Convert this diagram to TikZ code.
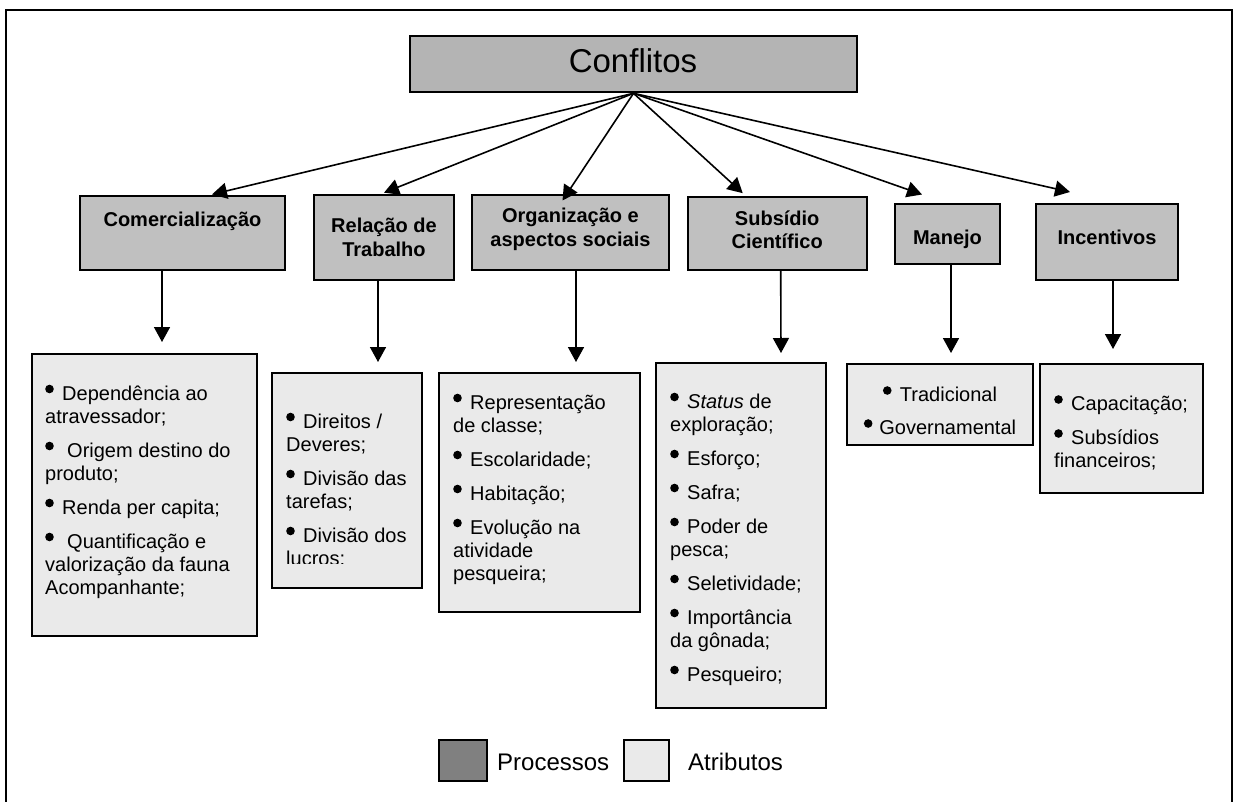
\documentclass[tikz,border=0pt]{standalone}
\usepackage{fontspec}
\setmainfont{Liberation Sans}
\usetikzlibrary{arrows.meta}
\definecolor{procfill}{HTML}{C0C0C0}
\definecolor{rootfill}{HTML}{B4B4B4}
\definecolor{attrfill}{HTML}{EAEAEA}
\definecolor{legdark}{HTML}{808080}
% round bullet, raised to the middle of the capitals
\newsavebox\bulbox
\newcommand\bul{\makebox[17pt][l]{\usebox\bulbox}}
\newcommand\itemgap{\vskip 11pt}
\newcommand\centerlines[1]{\vtop{\halign{\hfil##\hfil\cr#1\crcr}}}
\tikzset{
  proc/.style={draw, line width=2pt, fill=procfill, inner sep=0pt},
  attr/.style={draw, line width=2pt, fill=attrfill, inner sep=0pt},
  hd/.style={font=\fontsize{20}{23.5}\selectfont\bfseries, inner sep=0pt, anchor=base},
  body/.style={font=\fontsize{20}{23}\selectfont, inner sep=0pt, anchor=base west},
  legtext/.style={font=\fontsize{24}{28}\selectfont, inner sep=0pt, anchor=base west},
  arr/.style={line width=1.6pt, -{Triangle[length=15pt,width=16pt]}},
}
\begin{document}
\sbox\bulbox{\pgfpicture\pgfsetbaseline{0pt}%
  \pgfpathcircle{\pgfpoint{4.3pt}{11pt}}{4.3pt}\pgfusepath{fill}%
  \pgfusepath{use as bounding box}\endpgfpicture}%
\begin{tikzpicture}[x=1pt,y=-1pt]
\clip (0,0) rectangle (1237,801);
\fill[white] (0,0) rectangle (1237,801);
\draw[line width=2.4pt] (6,10) rectangle (1232,812);

% root
\node[proc, fill=rootfill, minimum width=447pt, minimum height=56.6pt] (cf) at (633.5,64) {};
\node[inner sep=0pt, anchor=base, font=\fontsize{33}{38}\selectfont] (cft) at (633,72.7) {Conflitos};

% processes
\node[proc, minimum width=205pt, minimum height=73.4pt] (com) at (182.5,233.1) {};
\node[proc, minimum width=140pt, minimum height=85pt] (rel) at (384,237.2) {};
\node[proc, minimum width=197pt, minimum height=75pt] (org) at (570.5,232.5) {};
\node[proc, minimum width=179pt, minimum height=73.3pt] (sub) at (777.2,233.3) {};
\node[proc, minimum width=105pt, minimum height=60pt] (man) at (947.5,234) {};
\node[proc, minimum width=142pt, minimum height=76pt] (inc) at (1107,242) {};

\node[hd] (comt) at (182.5,226.3) {Comercialização};
\node[hd] (relt) at (384,232.7) {\centerlines{Relação de\cr Trabalho}};
\node[hd] (orgt) at (570.5,222.7) {\centerlines{Organização e\cr aspectos sociais}};
\node[hd] (subt) at (777.2,225) {\centerlines{Subsídio\cr Científico}};
\node[hd] (mant) at (947.5,244.5) {Manejo};
\node[hd] (inct) at (1107,244.5) {Incentivos};

% attributes
\node[attr, minimum width=225pt, minimum height=282pt] (a1) at (144.5,495) {};
\node[attr, minimum width=150pt, minimum height=215pt] (a2) at (347,480.5) {};
\node[attr, minimum width=201pt, minimum height=239pt] (a3) at (539.5,492.5) {};
\node[attr, minimum width=170pt, minimum height=345pt] (a4) at (741,535.5) {};
\node[attr, minimum width=186pt, minimum height=81pt] (a5) at (940,404.5) {};
\node[attr, minimum width=163pt, minimum height=129pt] (a6) at (1121.5,428.5) {};

\node[body] (t1) at (45,400) {\vtop{%
  \hbox{\bul Dependência ao}\hbox{atravessador;}\itemgap
  \hbox{\bul\hspace{5pt}Origem destino do}\hbox{produto;}\itemgap
  \hbox{\bul Renda per capita;}\itemgap
  \hbox{\bul\hspace{5pt}Quantificação e}\hbox{valorização da fauna}\hbox{Acompanhante;}}};

\begin{scope}
\clip (272,373) rectangle (422,563);
\node[body] (t2) at (286,428) {\vtop{%
  \hbox{\bul Direitos /}\hbox{Deveres;}\itemgap
  \hbox{\bul Divisão das}\hbox{tarefas;}\itemgap
  \hbox{\bul Divisão dos}\hbox{lucros;}}};
\end{scope}

\node[body] (t3) at (453,409) {\vtop{%
  \hbox{\bul Representação}\hbox{de classe;}\itemgap
  \hbox{\bul Escolaridade;}\itemgap
  \hbox{\bul Habitação;}\itemgap
  \hbox{\bul Evolução na}\hbox{atividade}\hbox{pesqueira;}}};

\node[body] (t4) at (670,408) {\vtop{%
  \hbox{\bul\textit{Status} de}\hbox{exploração;}\itemgap
  \hbox{\bul Esforço;}\itemgap
  \hbox{\bul Safra;}\itemgap
  \hbox{\bul Poder de}\hbox{pesca;}\itemgap
  \hbox{\bul Seletividade;}\itemgap
  \hbox{\bul Importância}\hbox{da gônada;}\itemgap
  \hbox{\bul Pesqueiro;}}};

\node[body, anchor=base] (t5) at (940,401.5) {\centerlines{%
  \bul Tradicional\cr\noalign{\vskip 10pt}
  \makebox[15.5pt][l]{\usebox\bulbox}Governamental}};

\node[body] (t6) at (1054,410.5) {\vtop{%
  \hbox{\bul Capacitação;}\itemgap
  \hbox{\bul Subsídios}\hbox{financeiros;}}};

% connectors from the root
\draw[arr] (cf.south) -- ([xshift=29.5pt,yshift=1pt]com.north);
\draw[arr] (cf.south) -- ([xshift=0pt,yshift=1pt]rel.north);
\draw[arr] (cf.south) -- ([xshift=-8pt,yshift=-6.5pt]org.north);
\draw[arr] (cf.south) -- ([xshift=-34.5pt,yshift=2.5pt]sub.north);
\draw[arr] (cf.south) -- ([xshift=-25.5pt,yshift=8.5pt]man.north);
\draw[arr] (cf.south) -- ([xshift=-37pt,yshift=11pt]inc.north);

% connectors to the attribute lists
\draw[arr] ([xshift=-20.5pt]com.south) -- ([xshift=17.5pt,yshift=11pt]a1.north);
\draw[arr] ([xshift=-6pt]rel.south) -- ([xshift=31pt,yshift=10pt]a2.north);
\draw[arr] ([xshift=5.5pt]org.south) -- ([xshift=36.5pt,yshift=10pt]a3.north);
\draw[arr] ([xshift=3.5pt]sub.south) -- ([xshift=40pt,yshift=9pt]a4.north);
\draw[arr] ([xshift=3.5pt]man.south) -- ([xshift=11pt,yshift=10pt]a5.north);
\draw[arr] ([xshift=6pt]inc.south) -- ([xshift=-8.5pt,yshift=14pt]a6.north);

% legend
\node[draw, line width=1.6pt, fill=legdark, inner sep=0pt, minimum width=48pt, minimum height=41pt] (lp) at (463,760.5) {};
\node[legtext] (lpt) at (497,770.7) {Processos};
\node[draw, line width=1.6pt, fill=attrfill, inner sep=0pt, minimum width=45pt, minimum height=41pt] (la) at (646.5,760.5) {};
\node[legtext] (lat) at (688,770.7) {Atributos};
\end{tikzpicture}
\end{document}
